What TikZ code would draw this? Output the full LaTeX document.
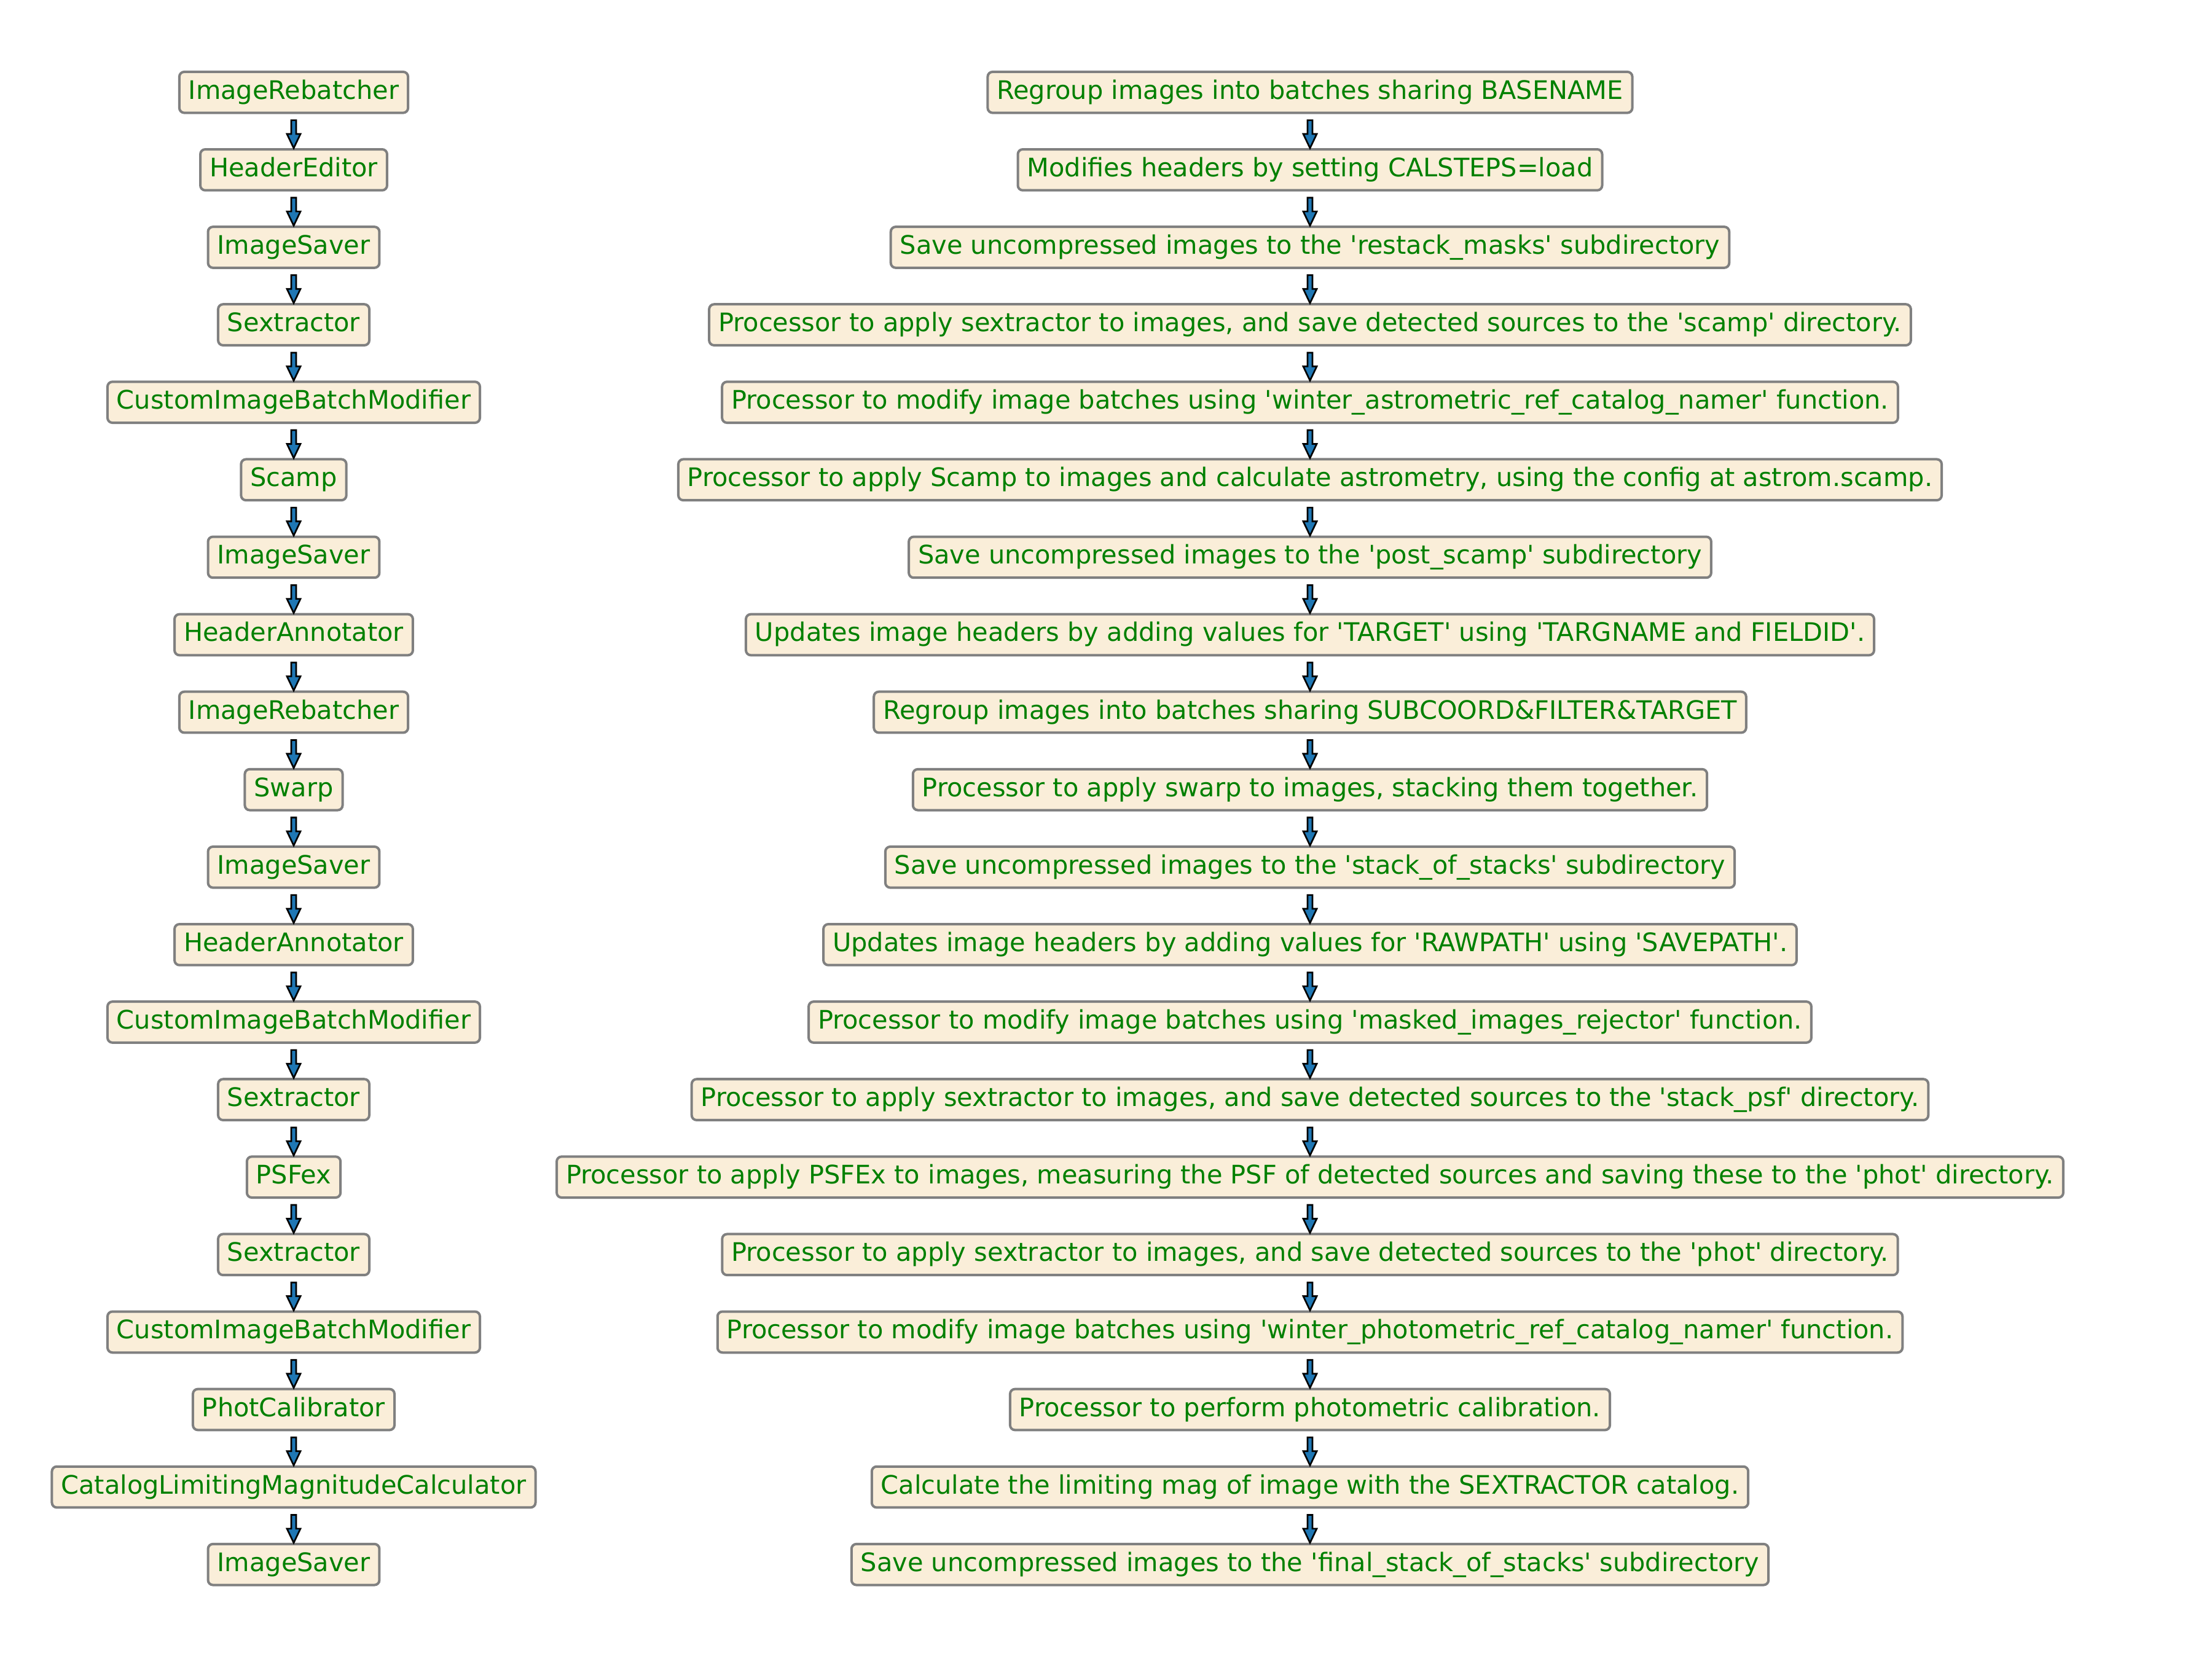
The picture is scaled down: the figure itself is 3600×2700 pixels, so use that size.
\documentclass[tikz,border=0pt]{standalone}
\usepackage{fontspec}
\setmainfont{DejaVu Sans}[Ligatures=TeXOff]
\usetikzlibrary{calc}
\definecolor{boxfill}{HTML}{FAEED9}
\definecolor{boxedge}{HTML}{808080}
\definecolor{txtgreen}{HTML}{008000}
\definecolor{arrowblue}{HTML}{1F77B4}
\tikzset{
  stepbox/.style={draw=boxedge, fill=boxfill, line width=0.8pt, rounded corners=1.6pt,
    text=txtgreen, font=\fontsize{8.3}{10}\selectfont, inner xsep=3pt, inner ysep=0pt,
    minimum height=13.34pt, text height=6.3pt, text depth=1.9pt},
  fatarrow/.style={draw=black, fill=arrowblue, line width=0.54pt, line join=miter}
}
\begin{document}
\begin{tikzpicture}[x=0.2pt,y=-0.2pt]
\useasboundingbox (0,0) rectangle (3600,2700);
\foreach \t [count=\i] in {ImageRebatcher, HeaderEditor, ImageSaver, Sextractor,
  CustomImageBatchModifier, Scamp, ImageSaver, HeaderAnnotator, ImageRebatcher, Swarp,
  ImageSaver, HeaderAnnotator, CustomImageBatchModifier, Sextractor, PSFex, Sextractor,
  CustomImageBatchModifier, PhotCalibrator, CatalogLimitingMagnitudeCalculator, ImageSaver}
  \node[stepbox] (L\i) at (478, {150.3+(\i-1)*126.1}) {\t};
\foreach \t [count=\i] in {
  {Regroup images into batches sharing BASENAME},
  {Modifies headers by setting CALSTEPS=load},
  {Save uncompressed images to the 'restack\_masks' subdirectory},
  {Processor to apply sextractor to images, and save detected sources to the 'scamp' directory.},
  {Processor to modify image batches using 'winter\_astrometric\_ref\_catalog\_namer' function.},
  {Processor to apply Scamp to images and calculate astrometry, using the config at astrom.scamp.},
  {Save uncompressed images to the 'post\_scamp' subdirectory},
  {Updates image headers by adding values for 'TARGET' using 'TARGNAME and FIELDID'.},
  {Regroup images into batches sharing SUBCOORD\&FILTER\&TARGET},
  {Processor to apply swarp to images, stacking them together.},
  {Save uncompressed images to the 'stack\_of\_stacks' subdirectory},
  {Updates image headers by adding values for 'RAWPATH' using 'SAVEPATH'.},
  {Processor to modify image batches using 'masked\_images\_rejector' function.},
  {Processor to apply sextractor to images, and save detected sources to the 'stack\_psf' directory.},
  {Processor to apply PSFEx to images, measuring the PSF of detected sources and saving these to the 'phot' directory.},
  {Processor to apply sextractor to images, and save detected sources to the 'phot' directory.},
  {Processor to modify image batches using 'winter\_photometric\_ref\_catalog\_namer' function.},
  {Processor to perform photometric calibration.},
  {Calculate the limiting mag of image with the SEXTRACTOR catalog.},
  {Save uncompressed images to the 'final\_stack\_of\_stacks' subdirectory}}
  \node[stepbox] (R\i) at (2132, {150.3+(\i-1)*126.1}) {\t};
\foreach \col in {L,R}
  \foreach \nb [remember=\nb as \na (initially 1)] in {2,...,20}
    \path[fatarrow] ($(\col\na.south)+(-4,10)$) -- ($(\col\nb.north)+(-4,-23)$)
      -- ($(\col\nb.north)+(-11,-23)$) -- (\col\nb.north) -- ($(\col\nb.north)+(11,-23)$)
      -- ($(\col\nb.north)+(4,-23)$) -- ($(\col\na.south)+(4,10)$) -- cycle;
\end{tikzpicture}
\end{document}
